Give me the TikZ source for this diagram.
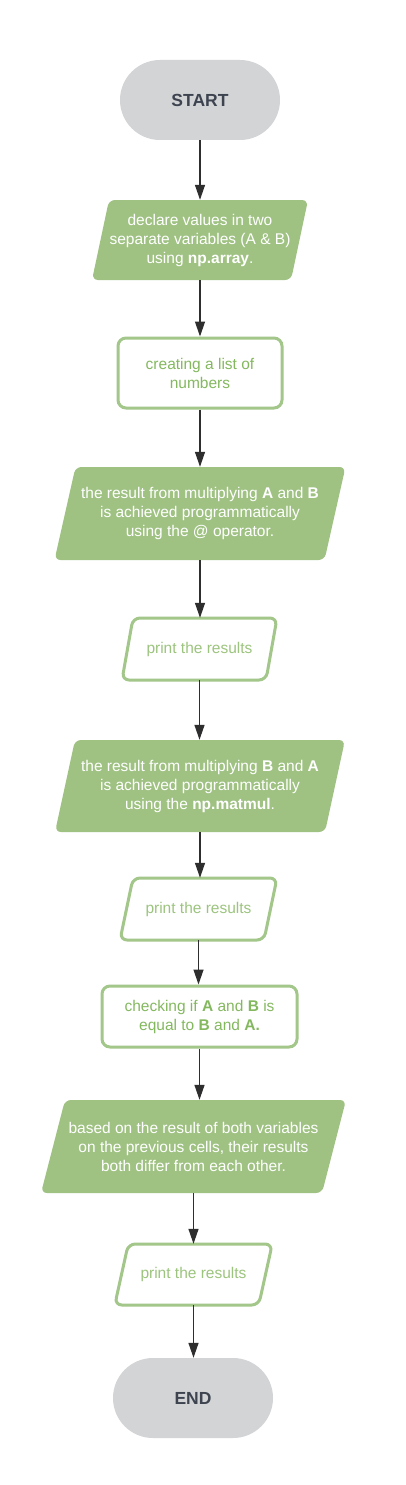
\documentclass[tikz,border=0pt]{standalone}
\usepackage{fontspec}
\setmainfont{Liberation Sans}
\usetikzlibrary{arrows.meta}
\definecolor{gfill}{HTML}{9FC283}
\definecolor{gline}{HTML}{A3C68A}
\definecolor{gtext}{HTML}{84B85F}
\definecolor{gtextlight}{HTML}{9CC47E}
\definecolor{pill}{HTML}{D3D4D6}
\definecolor{pilltext}{HTML}{3D4450}
\definecolor{arr}{HTML}{2E2E2E}
\tikzset{
  txt/.style={font=\fontsize{15.5}{19}\selectfont, align=center, inner sep=0pt},
  pillbox/.style={fill=pill, rounded corners=40pt, minimum width=160pt, minimum height=80pt, inner sep=0pt,
     font=\fontsize{17.5}{19}\selectfont\bfseries, text=pilltext},
  rectbox/.style={draw=gline, line width=3pt, fill=white, rounded corners=8pt, inner sep=0pt,
     txt, text=gtext},
  parafill/.style={fill=gfill, rounded corners=6pt},
  paraline/.style={draw=gline, line width=3pt, fill=white, rounded corners=7pt},
  conn/.style={draw=arr, line width=1.3pt, -{Triangle[length=15pt,width=10pt]}},
}
% #1 name, #2 cx, #3 cy, #4 edge width, #5 height, #6 slant, #7 style, #8 text options, #9 text
\newcommand\mypara[9]{%
  \path[#7] ({#2-#4/2-#6/2},{#3+#5/2}) -- ({#2+#4/2-#6/2},{#3+#5/2}) --
     ({#2+#4/2+#6/2},{#3-#5/2}) -- ({#2-#4/2+#6/2},{#3-#5/2}) -- cycle;
  \node[txt, minimum width=#4pt, minimum height=#5pt, #8] (#1) at (#2,#3) {#9};
}
\begin{document}
\begin{tikzpicture}[x=1pt,y=-1pt]
\useasboundingbox (0,0) rectangle (405,1485);
\fill[white] (0,0) rectangle (405,1485);

\node[pillbox] (start) at (200,100) {START};

\mypara{n2}{200}{240}{199}{80}{17}{parafill}{text=white}{declare values in two\\separate variables (A \& B)\\using \textbf{np.array}.}

\node[rectbox, minimum width=164pt, minimum height=70pt] (n3) at (200,373) {creating a list of\\numbers};

\mypara{n4}{200}{513.5}{270}{93}{21}{parafill}{text=white}{the result from multiplying \textbf{A} and \textbf{B}\\is achieved programmatically\\using the @ operator.}

\mypara{n5}{199.5}{649}{144}{62}{11}{paraline}{text=gtextlight}{print the results}

\mypara{n6}{200}{786}{270}{92}{20}{parafill}{text=white}{the result from multiplying \textbf{B} and \textbf{A}\\is achieved programmatically\\using the \textbf{np.matmul}.}

\mypara{n7}{198.5}{909}{144}{62}{13}{paraline}{text=gtextlight}{print the results}

\node[rectbox, minimum width=195pt, minimum height=61pt] (n8) at (199.5,1016.5) {checking if \textbf{A} and \textbf{B} is\\equal to \textbf{B} and \textbf{A.}};

\mypara{n9}{193.5}{1146.5}{281}{93}{24}{parafill}{text=white}{based on the result of both variables\\on the previous cells, their results\\both differ from each other.}

\mypara{n10}{193.5}{1274.5}{144}{61}{13.5}{paraline}{text=gtextlight}{print the results}

\node[pillbox] (end) at (193,1398) {END};

\draw[conn] (start.south) -- (start.south |- n2.north);
\draw[conn] (n2.south) -- (n2.south |- n3.north);
\draw[conn] (n3.south) -- (n3.south |- n4.north);
\draw[conn] (n4.south) -- (n4.south |- n5.north);
\draw[conn] (n5.south) -- (n5.south |- n6.north);
\draw[conn] (n6.south) -- (n6.south |- n7.north);
\draw[conn] (n7.south) -- (n7.south |- n8.north);
\draw[conn] (n8.south) -- (n8.south |- n9.north);
\draw[conn] (n9.south) -- (n9.south |- n10.north);
\draw[conn] (n10.south) -- (n10.south |- end.north);
\end{tikzpicture}
\end{document}
